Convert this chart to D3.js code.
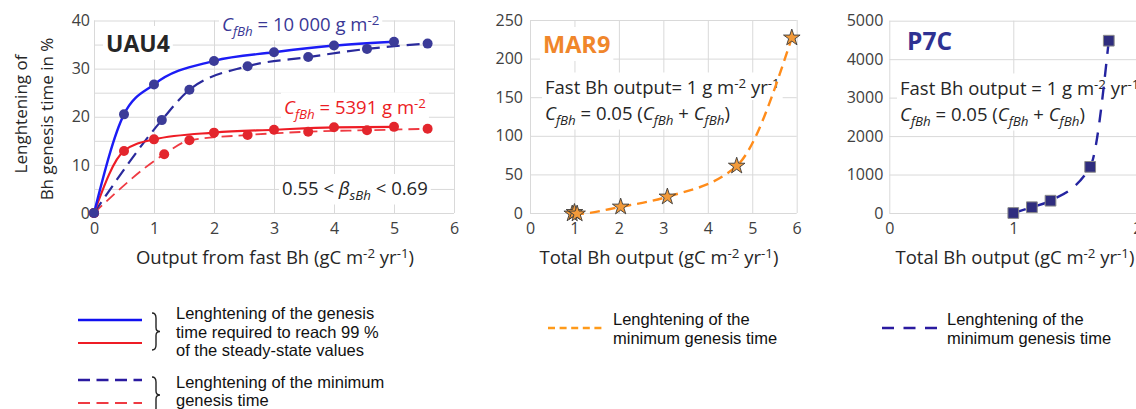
<html>
<script src="https://d3js.org/d3.v7.min.js"></script>
<style>
    body { margin: 0; background: #fff; }
    svg { font-family: "Open Sans", sans-serif; }
    .grid line { stroke: #d9d9d9; stroke-width: 1px; }
    .grid path { display: none; }
    .tick text { fill: #404040; font-size: 16px; }
    .axis path, .axis line { display: none; }
    .title { fill: #262626; font-size: 18.5px; }
    .ytitle { fill: #262626; font-size: 17px; }
    .note { fill: #262626; font-size: 18.5px; }
    .legend text { font-family: "Liberation Sans", Arial, sans-serif; font-size: 16.5px; fill: #111; }
    .brace { fill: none; stroke: #222; stroke-width: 1.4px; }
</style>

<svg width=1136 height=409></svg>

<script>
    // UAU4 : output from fast Bh vs lengthening (%)
    let fastOut = [0, 0.5, 1, 2, 3, 4, 5];
    let reach10000 = [0, 20.5, 26.7, 31.6, 33.4, 34.8, 35.6];
    let reach5391 = [0, 12.9, 15.3, 16.7, 17.3, 17.8, 17.9];

    let minX10000 = [0, 1.13, 1.59, 2.56, 3.57, 4.55, 5.56];
    let min10000 = [0, 19.3, 25.6, 30.5, 32.4, 34.1, 35.2];
    let minX5391 = [0, 1.17, 1.59, 2.56, 3.57, 4.55, 5.56];
    let min5391 = [0, 12.2, 15.1, 16.2, 16.9, 17.2, 17.5];

    // MAR9 : total Bh output vs lengthening of minimum genesis time
    let marX = [0.95, 1.0, 1.06, 2.04, 3.09, 4.65, 5.89];
    let marY = [-1, 1, -1, 8, 21, 61, 227];

    // P7C
    let p7X = [1.0, 1.15, 1.3, 1.62, 1.77];
    let p7Y = [0, 150, 320, 1200, 4480];

    let ticks6 = [0, 1, 2, 3, 4, 5, 6];
    let uauTicksY = [0, 10, 20, 30, 40];
    let uauGridY = [0, 5, 10, 15, 20, 25, 30, 35, 40];
    let marTicksY = [0, 50, 100, 150, 200, 250];
    let p7TicksY = [0, 1000, 2000, 3000, 4000, 5000];
    let p7TicksX = [0, 1, 2];

    let svg = d3.select('svg');

    function zip(xs, ys) { return xs.map((x, i) => [x, ys[i]]); }

    // text with italic / sub / superscript pieces
    function rich(sel, parts) {
        let shift = 0;
        parts.forEach(([t, c]) => {
            let target = c.includes('sub') ? 4.5 : c.includes('sup') ? -6.5 : 0;
            let ts = sel.append('tspan').text(t).attr('dy', target - shift);
            shift = target;
            if (c.includes('i')) ts.style('font-style', 'italic');
            if (target) ts.style('font-size', '0.72em');
        });
        return sel;
    }

    function boxed(g, x, y, parts, cls, color, size, weight) {
        let holder = g.append('g');
        let t = holder.append('text').attr('class', cls).attr('x', x).attr('y', y)
            .style('fill', color);
        if (size) t.style('font-size', size + 'px');
        if (weight) t.style('font-weight', weight);
        rich(t, parts);
        let bb = t.node().getBBox();
        holder.insert('rect', 'text')
            .attr('x', bb.x - 3).attr('y', bb.y - 1)
            .attr('width', bb.width + 6).attr('height', bb.height + 2)
            .attr('fill', '#fff');
    }

    function panel(opts) {
        let g = svg.append('g');
        let x = d3.scaleLinear().domain(opts.xd).range(opts.xr);
        let y = d3.scaleLinear().domain(opts.yd).range([213, opts.ytop]);

        g.append('g').attr('class', 'grid')
            .attr('transform', 'translate(' + opts.xr[0] + ',0)')
            .call(d3.axisLeft(y).tickValues(opts.gridY).tickSize(-(opts.xr[1] - opts.xr[0])).tickFormat(''));
        g.append('g').attr('class', 'grid')
            .attr('transform', 'translate(0,' + opts.ytop + ')')
            .call(d3.axisBottom(x).tickValues(opts.ticksX).tickSize(213 - opts.ytop).tickFormat(''));

        g.append('g').attr('class', 'axis')
            .attr('transform', 'translate(' + opts.xr[0] + ',0)')
            .call(d3.axisLeft(y).tickValues(opts.ticksY).tickSize(0).tickPadding(opts.pad).tickFormat(d3.format('d')));
        g.append('g').attr('class', 'axis')
            .attr('transform', 'translate(0,213)')
            .call(d3.axisBottom(x).tickValues(opts.ticksX).tickSize(0).tickPadding(10).tickFormat(d3.format('d')));

        g.selectAll('.tick text').style('font-family', '"Open Sans", sans-serif');

        let tt = g.append('text').attr('class', 'title')
            .attr('x', opts.titleX).attr('y', 264).attr('text-anchor', 'middle');
        rich(tt, opts.title);
        return { g: g, x: x, y: y };
    }

    let unitParts = [['(gC m', ''], ['-2', 'sup'], [' yr', ''], ['-1', 'sup'], [')', '']];

    // ---------- UAU4 ----------
    let p1 = panel({ xd: [0, 6], xr: [94, 454], yd: [0, 40], ytop: 20.5,
        gridY: uauGridY, ticksY: uauTicksY, ticksX: ticks6, pad: 4, titleX: 275,
        title: [['Output from fast Bh ', '']].concat(unitParts) });

    svg.append('text').attr('class', 'ytitle').attr('transform', 'translate(27,114) rotate(-90)')
        .attr('text-anchor', 'middle').text('Lenghtening of');
    svg.append('text').attr('class', 'ytitle').attr('transform', 'translate(53,119) rotate(-90)')
        .attr('text-anchor', 'middle').text('Bh genesis time in %');

    boxed(p1.g, 106, 52, [['UAU4', '']], 'note', '#262626', 23, 'bold');
    boxed(p1.g, 222, 31, [['C', 'i'], ['fBh', 'isub'], [' = 10 000 g m', ''], ['-2', 'sup']], 'note', '#3a3896');
    boxed(p1.g, 284, 114, [['C', 'i'], ['fBh', 'isub'], [' = 5391 g m', ''], ['-2', 'sup']], 'note', '#ec1c24');
    boxed(p1.g, 282, 195, [['0.55 < ', ''], ['β', 'i'], ['sBh', 'isub'], [' < 0.69', '']], 'note', '#262626');

    let line1 = d3.line().x(d => p1.x(d[0])).y(d => p1.y(d[1])).curve(d3.curveMonotoneX);

    let uauSeries = [
        { pts: zip(minX5391, min5391), stroke: '#ef3a42', w: 1.8, dash: '11,6', dot: '#e3262d' },
        { pts: zip(minX10000, min10000), stroke: '#2a2a9c', w: 2.2, dash: '13,7', dot: '#3b3b98' },
        { pts: zip(fastOut, reach5391), stroke: '#ee1c25', w: 2.2, dash: null, dot: '#e3262d' },
        { pts: zip(fastOut, reach10000), stroke: '#1c1cf5', w: 2.4, dash: null, dot: '#3b3b98' }
    ];
    uauSeries.forEach(s => {
        p1.g.append('path').attr('d', line1(s.pts)).attr('fill', 'none')
            .attr('stroke', s.stroke).attr('stroke-width', s.w)
            .attr('stroke-dasharray', s.dash);
    });
    uauSeries.forEach(s => {
        p1.g.selectAll(null).data(s.pts).enter().append('circle')
            .attr('cx', d => p1.x(d[0])).attr('cy', d => p1.y(d[1]))
            .attr('r', 5).attr('fill', s.dot);
    });

    // ---------- MAR9 ----------
    let p2 = panel({ xd: [0, 6], xr: [530, 796.7], yd: [0, 250], ytop: 20,
        gridY: marTicksY, ticksY: marTicksY, ticksX: ticks6, pad: 7, titleX: 659,
        title: [['Total Bh output ', '']].concat(unitParts) });

    boxed(p2.g, 543, 53, [['MAR9', '']], 'note', '#f0862b', 23.5, 'bold');
    boxed(p2.g, 545, 94, [['Fast Bh output= 1 g m', ''], ['-2', 'sup'], [' yr', ''], ['-1', 'sup']], 'note', '#262626');
    boxed(p2.g, 545, 120, [['C', 'i'], ['fBh', 'isub'], [' = 0.05 (', ''], ['C', 'i'], ['fBh', 'isub'],
        [' + ', ''], ['C', 'i'], ['fBh', 'isub'], [')', '']], 'note', '#262626');

    let marPts = zip(marX, marY);
    let line2 = d3.line().x(d => p2.x(d[0])).y(d => p2.y(d[1])).curve(d3.curveMonotoneX);
    p2.g.append('path').attr('d', line2(marPts.slice(1))).attr('fill', 'none')
        .attr('stroke', '#ff8c1a').attr('stroke-width', 2.4).attr('stroke-dasharray', '10,6');
    p2.g.selectAll(null).data(marPts).enter().append('path')
        .attr('d', d3.symbol(d3.symbolStar, 85))
        .attr('transform', d => 'translate(' + p2.x(d[0]) + ',' + p2.y(d[1]) + ')')
        .attr('fill', '#f29a3a').attr('stroke', '#3a3a3a').attr('stroke-width', 0.9);

    // ---------- P7C ----------
    let p3 = panel({ xd: [0, 2], xr: [889.3, 1137.3], yd: [0, 5000], ytop: 20.7,
        gridY: p7TicksY, ticksY: p7TicksY, ticksX: p7TicksX, pad: 6, titleX: 1015,
        title: [['Total Bh output ', '']].concat(unitParts) });

    boxed(p3.g, 907, 50, [['P7C', '']], 'note', '#2e3192', 24.5, 'bold');
    boxed(p3.g, 900, 95, [['Fast Bh output = 1 g m', ''], ['-2', 'sup'], [' yr', ''], ['-1', 'sup']], 'note', '#262626');
    boxed(p3.g, 900, 121, [['C', 'i'], ['fBh', 'isub'], [' = 0.05 (', ''], ['C', 'i'], ['fBh', 'isub'],
        [' + ', ''], ['C', 'i'], ['fBh', 'isub'], [')', '']], 'note', '#262626');

    let p7Pts = zip(p7X, p7Y);
    let line3 = d3.line().x(d => p3.x(d[0])).y(d => p3.y(d[1])).curve(d3.curveMonotoneX);
    p3.g.append('path').attr('d', line3(p7Pts)).attr('fill', 'none')
        .attr('stroke', '#2424a0').attr('stroke-width', 2.4).attr('stroke-dasharray', '13,10');
    p3.g.selectAll(null).data(p7Pts).enter().append('path')
        .attr('d', d3.symbol(d3.symbolSquare, 115))
        .attr('transform', d => 'translate(' + p3.x(d[0]) + ',' + p3.y(d[1]) + ')')
        .attr('fill', '#2f2d7e').attr('stroke', '#8a8a8a').attr('stroke-width', 1);

    // ---------- legends ----------
    let leg = svg.append('g').attr('class', 'legend');

    function brace(x0, y0, y1) {
        let m = (y0 + y1) / 2;
        return 'M' + x0 + ',' + y0 + 'Q' + (x0 + 4) + ',' + y0 + ' ' + (x0 + 4) + ',' + (y0 + 5) +
            'L' + (x0 + 4) + ',' + (m - 4) + 'Q' + (x0 + 4) + ',' + m + ' ' + (x0 + 8) + ',' + m +
            'Q' + (x0 + 4) + ',' + m + ' ' + (x0 + 4) + ',' + (m + 4) +
            'L' + (x0 + 4) + ',' + (y1 - 5) + 'Q' + (x0 + 4) + ',' + y1 + ' ' + x0 + ',' + y1;
    }

    let legLines = [
        { x1: 78, x2: 142, y: 320, c: '#1010f0', w: 2.6, dash: null },
        { x1: 78, x2: 142, y: 343, c: '#ee1c25', w: 1.8, dash: null },
        { x1: 78, x2: 142, y: 380, c: '#2a1aa0', w: 2.4, dash: '12,6.5' },
        { x1: 78, x2: 142, y: 403, c: '#ee3a42', w: 2.0, dash: '12,6.5' },
        { x1: 548, x2: 603, y: 328, c: '#ff9a1a', w: 2.4, dash: '7,4.6' },
        { x1: 882, x2: 937, y: 328, c: '#2a1aa0', w: 2.4, dash: '12,9.5' }
    ];
    leg.selectAll('line').data(legLines).enter().append('line')
        .attr('x1', d => d.x1).attr('x2', d => d.x2).attr('y1', d => d.y).attr('y2', d => d.y)
        .attr('stroke', d => d.c).attr('stroke-width', d => d.w).attr('stroke-dasharray', d => d.dash);

    leg.append('path').attr('class', 'brace').attr('d', brace(152, 313, 350));
    leg.append('path').attr('class', 'brace').attr('d', brace(152, 377, 413));

    let legTexts = [
        { x: 176, y: 319, t: 'Lenghtening of the genesis' },
        { x: 176, y: 337.5, t: 'time required to reach 99 %' },
        { x: 176, y: 356, t: 'of the steady-state values' },
        { x: 176, y: 388, t: 'Lenghtening of the minimum' },
        { x: 176, y: 406, t: 'genesis time' },
        { x: 613, y: 325, t: 'Lenghtening of the' },
        { x: 613, y: 344, t: 'minimum genesis time' },
        { x: 947, y: 325, t: 'Lenghtening of the' },
        { x: 947, y: 344, t: 'minimum genesis time' }
    ];
    leg.selectAll('text').data(legTexts).enter().append('text')
        .attr('x', d => d.x).attr('y', d => d.y).text(d => d.t);
</script>
</html>
